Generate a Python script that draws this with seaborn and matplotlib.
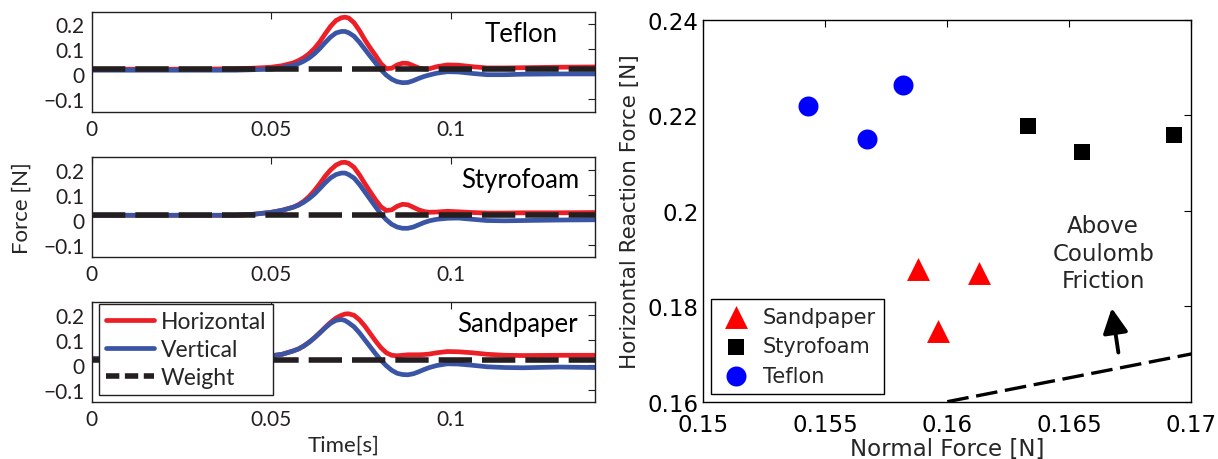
import matplotlib
matplotlib.use("Agg")
import matplotlib.pyplot as plt
import seaborn as sns
import pandas as pd
from matplotlib.lines import Line2D

# ---------------- data ----------------
time_s = [0.0, 0.01, 0.02, 0.03, 0.04, 0.045, 0.05, 0.053,
          0.056, 0.0575, 0.059, 0.0605, 0.062, 0.0635, 0.065, 0.0665, 0.068, 0.0695,
          0.0705, 0.0715, 0.073, 0.0745, 0.076, 0.0775, 0.079, 0.0805, 0.082, 0.0835,
          0.085, 0.0865, 0.088, 0.0895, 0.091, 0.0925, 0.094,
          0.096, 0.099, 0.102, 0.106, 0.11, 0.115, 0.12, 0.13, 0.14]

teflon_h = [0.02, 0.02, 0.02, 0.02, 0.022, 0.024, 0.028, 0.034,
            0.045, 0.054, 0.066, 0.082, 0.103, 0.13, 0.162, 0.192, 0.215, 0.226,
            0.228, 0.225, 0.206, 0.175, 0.138, 0.105, 0.075, 0.042, 0.022, 0.024,
            0.037, 0.044, 0.043, 0.034, 0.025, 0.021, 0.022,
            0.03, 0.037, 0.036, 0.03, 0.025, 0.025, 0.026, 0.028, 0.029]
teflon_v = [0.016, 0.016, 0.016, 0.016, 0.016, 0.018, 0.02, 0.026,
            0.035, 0.042, 0.052, 0.065, 0.082, 0.103, 0.127, 0.149, 0.165, 0.171,
            0.171, 0.166, 0.152, 0.128, 0.1, 0.072, 0.045, 0.018, -0.004, -0.02,
            -0.03, -0.034, -0.033, -0.026, -0.017, -0.009, -0.003,
            0.004, 0.01, 0.009, 0.003, -0.002, -0.002, 0.0, 0.001, 0.001]

styro_h = [0.018, 0.018, 0.018, 0.018, 0.018, 0.022, 0.03, 0.038,
           0.05, 0.06, 0.074, 0.093, 0.117, 0.145, 0.175, 0.2, 0.219, 0.229,
           0.23, 0.226, 0.21, 0.18, 0.145, 0.112, 0.08, 0.052, 0.037, 0.04,
           0.054, 0.062, 0.06, 0.05, 0.04, 0.033, 0.03,
           0.031, 0.034, 0.032, 0.029, 0.027, 0.027, 0.028, 0.028, 0.029]
styro_v = [0.018, 0.018, 0.018, 0.018, 0.018, 0.022, 0.03, 0.038,
           0.05, 0.058, 0.07, 0.085, 0.103, 0.125, 0.148, 0.168, 0.181, 0.187,
           0.187, 0.181, 0.167, 0.142, 0.112, 0.082, 0.052, 0.023, 0.0, -0.018,
           -0.029, -0.034, -0.034, -0.029, -0.02, -0.011, -0.004,
           0.002, 0.006, 0.007, 0.002, -0.003, -0.004, -0.003, -0.001, 0.0]

sand_h = [0.025, 0.025, 0.025, 0.025, 0.025, 0.03, 0.036, 0.042,
          0.055, 0.063, 0.075, 0.09, 0.108, 0.128, 0.15, 0.17, 0.187, 0.198,
          0.203, 0.204, 0.198, 0.18, 0.155, 0.125, 0.095, 0.068, 0.048, 0.038,
          0.036, 0.038, 0.04, 0.04, 0.04, 0.041, 0.043,
          0.048, 0.053, 0.052, 0.048, 0.042, 0.038, 0.037, 0.038, 0.038]
sand_v = [0.025, 0.025, 0.025, 0.025, 0.025, 0.03, 0.036, 0.042,
          0.055, 0.063, 0.075, 0.09, 0.108, 0.128, 0.148, 0.166, 0.178, 0.181,
          0.177, 0.168, 0.152, 0.128, 0.1, 0.072, 0.044, 0.018, -0.004, -0.022,
          -0.034, -0.039, -0.04, -0.036, -0.028, -0.019, -0.011,
          -0.003, 0.004, 0.003, -0.002, -0.008, -0.011, -0.012, -0.009, -0.011]

weight_n = 0.02

panel_names = ["Teflon", "Styrofoam", "Sandpaper"]
series_labels = ["Horizontal", "Vertical", "Weight"]

sand_N = [0.1588, 0.1613, 0.1596]
sand_F = [0.1877, 0.1869, 0.1748]
styro_N = [0.1633, 0.1655, 0.1693]
styro_F = [0.2177, 0.2122, 0.2158]
teflon_N = [0.1543, 0.1567, 0.1582]
teflon_F = [0.2220, 0.2150, 0.2263]

coulomb_N = [0.16, 0.17]
coulomb_F = [0.16, 0.17]

left_xticks = [0, 0.05, 0.1]
left_xticklabels = ["0", "0.05", "0.1"]
left_yticks = [-0.1, 0, 0.1, 0.2]
left_yticklabels = ["\u22120.1", "0", "0.1", "0.2"]
right_xticks = [0.15, 0.155, 0.16, 0.165, 0.17]
right_xticklabels = ["0.15", "0.155", "0.16", "0.165", "0.17"]
right_yticks = [0.16, 0.18, 0.2, 0.22, 0.24]
right_yticklabels = ["0.16", "0.18", "0.2", "0.22", "0.24"]

# ---------------- style ----------------
sns.set_style("white")
plt.rcParams["font.family"] = ["Lato", "DejaVu Sans"]

RED = "#EC1F27"
BLUE = "#3A55A5"
DARK = "#231F20"

fig = plt.figure(figsize=(12.18, 4.60), dpi=100)

left_x, left_w = 0.0753, 0.413
bottoms = [0.755, 0.4385, 0.1233]
ph = 0.2174

panel_data = [(teflon_h, teflon_v), (styro_h, styro_v), (sand_h, sand_v)]
label_x = [0.926, 0.970, 0.966]
label_y = [0.78, 0.78, 0.79]

for i, (name, (hv, vv)) in enumerate(zip(panel_names, panel_data)):
    ax = fig.add_axes([left_x, bottoms[i], left_w, ph])
    sns.lineplot(x=time_s, y=hv, ax=ax, color=RED, lw=3.4, label=series_labels[0])
    sns.lineplot(x=time_s, y=vv, ax=ax, color=BLUE, lw=3.4, label=series_labels[1])
    ax.axhline(weight_n, color=DARK, lw=4, dashes=(6, 1.8), label=series_labels[2], zorder=5)
    ax.set_xlim(0, 0.14)
    ax.set_ylim(-0.15, 0.25)
    ax.set_xticks(left_xticks)
    ax.set_xticklabels(left_xticklabels)
    ax.set_yticks(left_yticks)
    ax.set_yticklabels(left_yticklabels)
    ax.tick_params(direction="in", length=5, width=0.8, top=True, right=True,
                   labelsize=15, pad=5, colors=DARK)
    for sp in ax.spines.values():
        sp.set_color(DARK)
        sp.set_linewidth(1.0)
    ax.set_xlabel("")
    ax.set_ylabel("")
    ax.text(label_x[i], label_y[i], name, transform=ax.transAxes, ha="right",
            va="center", fontsize=18.5, color="black", zorder=6)
    leg = ax.get_legend()
    if leg is not None:
        leg.remove()
    if i == 1:
        ax.set_ylabel("Force [N]", fontsize=16, va="center")
        ax.yaxis.set_label_coords(-0.139, 0.5)
    if i == 2:
        ax.set_xlabel("Time[s]", fontsize=16, va="center")
        ax.xaxis.set_label_coords(0.5, -0.42)
        handles = [Line2D([], [], color=RED, lw=3.4),
                   Line2D([], [], color=BLUE, lw=3.4),
                   Line2D([], [], color=DARK, lw=4, dashes=(2.4, 1.0))]
        lg = ax.legend(handles, series_labels, loc="upper left",
                       bbox_to_anchor=(0.014, 0.985), borderaxespad=0,
                       fontsize=16.5, frameon=True, fancybox=False, framealpha=1,
                       edgecolor=DARK, handlelength=2.1, handletextpad=0.3,
                       labelspacing=0.32, borderpad=0.3)
        lg.get_frame().set_linewidth(1.0)
        lg.set_zorder(10)

# ---------------- right panel ----------------
axr = fig.add_axes([0.5774, 0.1246, 0.4007, 0.8304])
rfont = ["DejaVu Sans"]
df_s = pd.DataFrame({"N": sand_N, "F": sand_F})
df_y = pd.DataFrame({"N": styro_N, "F": styro_F})
df_t = pd.DataFrame({"N": teflon_N, "F": teflon_F})
sns.scatterplot(data=df_s, x="N", y="F", ax=axr, marker="^", color="red", s=16.5**2,
                linewidth=0, label="Sandpaper", zorder=4)
sns.scatterplot(data=df_y, x="N", y="F", ax=axr, marker="s", color="black", s=12**2,
                linewidth=0, label="Styrofoam", zorder=4)
sns.scatterplot(data=df_t, x="N", y="F", ax=axr, marker="o", color="blue", s=14.4**2,
                linewidth=0, label="Teflon", zorder=4)
sns.lineplot(x=coulomb_N, y=coulomb_F, ax=axr, color="black", lw=2.4,
             dashes=False, legend=False).lines[-1].set_dashes((6.5, 2.3))

axr.set_xlim(0.15, 0.17)
axr.set_ylim(0.16, 0.24)
axr.set_xticks(right_xticks)
axr.set_xticklabels(right_xticklabels, family=rfont)
axr.set_yticks(right_yticks)
axr.set_yticklabels(right_yticklabels, family=rfont)
axr.tick_params(direction="in", length=5, width=0.8, top=True, right=True,
                labelsize=16.5, colors="black")
axr.tick_params(axis="y", pad=3.5)
axr.tick_params(axis="x", pad=8)
for sp in axr.spines.values():
    sp.set_color("black")
    sp.set_linewidth(1.0)

axr.set_xlabel("Normal Force [N]", fontsize=16.5, family=rfont, va="center")
axr.xaxis.set_label_coords(0.5, -0.123)
axr.set_ylabel("Horizontal Reaction Force [N]", fontsize=15.5, family=rfont, va="center")
axr.yaxis.set_label_coords(-0.150, 0.5)

axr.text(0.16639, 0.19107, "Above\nCoulomb\nFriction", ha="center", va="center",
         fontsize=16.5, family=rfont, linespacing=1.25)
axr.annotate("", xy=(0.16674, 0.1796), xytext=(0.16701, 0.1703),
             arrowprops=dict(arrowstyle="-|>,head_length=0.75,head_width=0.38",
                             lw=2.8, color="black", mutation_scale=20,
                             shrinkA=0, shrinkB=0))

lgr = axr.legend(loc="lower left", bbox_to_anchor=(0.015, 0.02), borderaxespad=0,
                 prop={"family": rfont, "size": 15}, frameon=True, fancybox=False,
                 framealpha=1, edgecolor="black", handlelength=1.6, handletextpad=0.5,
                 labelspacing=0.45, borderpad=0.4, scatterpoints=1)
lgr.get_frame().set_linewidth(1.0)

fig.savefig("out.png", dpi=100)
